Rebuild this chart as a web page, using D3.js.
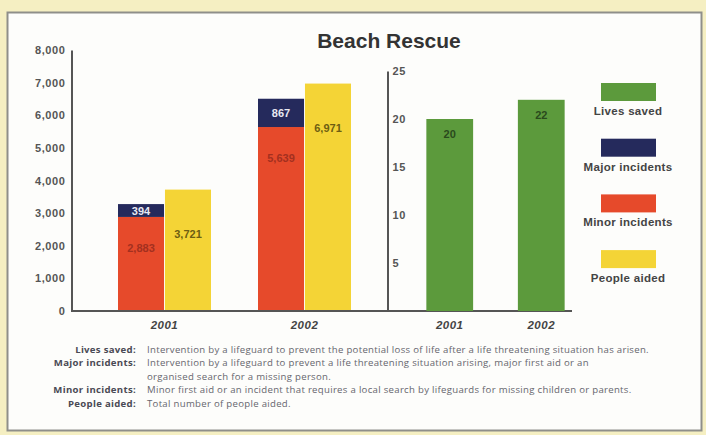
<!DOCTYPE html>
<html>
<head>
<meta charset="utf-8">
<script src="https://cdn.jsdelivr.net/npm/d3@7"></script>
<style>
  html, body { margin: 0; padding: 0; background: #f5f0c6; }
  svg { display: block; }
</style>
</head>
<body>
<script>
// Beach rescue statistics, 2001–2002
const years = ["2001", "2002"];
const minorIncidents = [2883, 5639];
const majorIncidents = [394, 867];
const peopleAided = [3721, 6971];
const livesSaved = [20, 22];
const leftTicks = [0, 1000, 2000, 3000, 4000, 5000, 6000, 7000, 8000];
const rightTicks = [5, 10, 15, 20, 25];
const legendItems = ["Lives saved", "Major incidents", "Minor incidents", "People aided"];
const glossaryTerms = ["Lives saved:", "Major incidents:", "", "Minor incidents:", "People aided:"];
const glossaryText = [
  "Intervention by a lifeguard to prevent the potential loss of life after a life threatening situation has arisen.",
  "Intervention by a lifeguard to prevent a life threatening situation arising, major first aid or an",
  "organised search for a missing person.",
  "Minor first aid or an incident that requires a local search by lifeguards for missing children or parents.",
  "Total number of people aided."
];

const colors = {
  lives: "#5c9a3c",
  major: "#252a5c",
  minor: "#e64a2b",
  aided: "#f4d436"
};
const legendColors = [colors.lives, colors.major, colors.minor, colors.aided];

const W = 706, H = 435;
const svg = d3.select("body").append("svg").attr("width", W).attr("height", H);

// outer paper and white panel
svg.append("rect").attr("width", W).attr("height", H).attr("fill", "#f5efc2");
svg.append("rect")
  .attr("x", 7.5).attr("y", 12.5).attr("width", 694).attr("height", 418)
  .attr("fill", "#fdfdfb").attr("stroke", "#8f8f8a").attr("stroke-width", 2);

// title
svg.append("text")
  .attr("x", 389).attr("y", 48)
  .attr("text-anchor", "middle")
  .attr("font-family", "Liberation Sans, Arial, sans-serif")
  .attr("font-weight", "bold").attr("font-size", 21)
  .attr("fill", "#333")
  .text("Beach Rescue");

const baseY = 311;
const tickFont = g => g.selectAll("text")
  .attr("font-family", "Liberation Sans, Arial, sans-serif")
  .attr("font-weight", "bold").attr("font-size", 11)
  .attr("letter-spacing", 0.6)
  .attr("fill", "#555");

// ---- left chart: incidents and people aided ----
const y = d3.scaleLinear().domain([0, 8000]).range([baseY, 50]);
const x = d3.scaleBand().domain(years).range([71, 398]).padding(0.3357);
const xs = d3.scaleBand().domain(["stack", "aided"]).range([0, x.bandwidth()]).paddingInner(0.02);

const left = svg.append("g");
years.forEach((yr, i) => {
  const x0 = x(yr);
  const g = left.append("g");
  // minor incidents (bottom of stack)
  g.append("rect")
    .attr("x", x0 + xs("stack")).attr("width", xs.bandwidth())
    .attr("y", y(minorIncidents[i])).attr("height", y(0) - y(minorIncidents[i]))
    .attr("fill", colors.minor);
  // major incidents stacked on top
  const top = minorIncidents[i] + majorIncidents[i];
  g.append("rect")
    .attr("x", x0 + xs("stack")).attr("width", xs.bandwidth())
    .attr("y", y(top)).attr("height", y(minorIncidents[i]) - y(top))
    .attr("fill", colors.major);
  // people aided
  g.append("rect")
    .attr("x", x0 + xs("aided")).attr("width", xs.bandwidth())
    .attr("y", y(peopleAided[i])).attr("height", y(0) - y(peopleAided[i]))
    .attr("fill", colors.aided);

  const lab = (cx, cy, txt, fill) => g.append("text")
    .attr("x", cx).attr("y", cy).attr("text-anchor", "middle")
    .attr("font-family", "Liberation Sans, Arial, sans-serif")
    .attr("font-weight", "bold").attr("font-size", 11)
    .attr("fill", fill).text(txt);
  const cStack = x0 + xs("stack") + xs.bandwidth() / 2;
  const cAided = x0 + xs("aided") + xs.bandwidth() / 2;
  lab(cStack, (y(top) + y(minorIncidents[i])) / 2 + 4, d3.format(",")(majorIncidents[i]), "#e8e8f2");
  lab(cStack, y(minorIncidents[i]) + 35, d3.format(",")(minorIncidents[i]), "#a3301f");
  lab(cAided, y(peopleAided[i]) + 48, d3.format(",")(peopleAided[i]), "#6e5e12");
});

const yAxisL = svg.append("g")
  .attr("transform", "translate(71.5,0)")
  .call(d3.axisLeft(y).tickValues(leftTicks).tickFormat(d3.format(",")).tickSize(0).tickPadding(6))
  .call(tickFont);
yAxisL.select(".domain").attr("stroke", "#555").attr("stroke-width", 2);

// shared baseline
svg.append("line")
  .attr("x1", 71).attr("x2", 572).attr("y1", baseY).attr("y2", baseY)
  .attr("stroke", "#555").attr("stroke-width", 2);

const catLabel = (g, scale) => g.selectAll("text.cat")
  .data(years).join("text")
  .attr("class", "cat")
  .attr("x", d => scale(d) + scale.bandwidth() / 2)
  .attr("y", 329)
  .attr("text-anchor", "middle")
  .attr("font-family", "Liberation Sans, Arial, sans-serif")
  .attr("font-weight", "bold").attr("font-style", "italic").attr("font-size", 11.5)
  .attr("letter-spacing", 0.5)
  .attr("fill", "#444")
  .text(d => d);
catLabel(left, x);

// ---- right chart: lives saved ----
const y2 = d3.scaleLinear().domain([0, 25]).range([baseY, 71]);
const x2 = d3.scaleBand().domain(years).range([387, 604]).paddingInner(0.489).paddingOuter(0.43);

const right = svg.append("g");
right.selectAll("rect.lives").data(years).join("rect")
  .attr("class", "lives")
  .attr("x", d => x2(d)).attr("width", x2.bandwidth())
  .attr("y", (d, i) => y2(livesSaved[i]))
  .attr("height", (d, i) => y2(0) - y2(livesSaved[i]))
  .attr("fill", colors.lives);
right.selectAll("text.val").data(years).join("text")
  .attr("class", "val")
  .attr("x", d => x2(d) + x2.bandwidth() / 2)
  .attr("y", (d, i) => y2(livesSaved[i]) + 19)
  .attr("text-anchor", "middle")
  .attr("font-family", "Liberation Sans, Arial, sans-serif")
  .attr("font-weight", "bold").attr("font-size", 11)
  .attr("fill", "#2a4a1c")
  .text((d, i) => livesSaved[i]);
catLabel(right, x2);

const yAxisR = svg.append("g")
  .attr("transform", "translate(387.5,0)")
  .call(d3.axisRight(y2).tickValues(rightTicks).tickSize(0).tickPadding(5))
  .call(tickFont);
yAxisR.select(".domain").attr("stroke", "#555").attr("stroke-width", 2);

// ---- legend ----
const legend = svg.append("g");
legendItems.forEach((name, i) => {
  const top = 83 + i * 55.7;
  legend.append("rect")
    .attr("x", 601).attr("y", top).attr("width", 55).attr("height", 18)
    .attr("fill", legendColors[i]);
  legend.append("text")
    .attr("x", 628).attr("y", top + 32)
    .attr("text-anchor", "middle")
    .attr("font-family", "Liberation Sans, Arial, sans-serif")
    .attr("font-weight", "bold").attr("font-size", 11.5)
    .attr("letter-spacing", 0.3)
    .attr("fill", "#444")
    .text(name);
});

// ---- glossary ----
const gloss = svg.append("g")
  .attr("font-family", "Open Sans, Noto Sans, sans-serif")
  .attr("font-size", 9.6);
glossaryText.forEach((t, i) => {
  const ly = 353 + i * 13.4;
  if (glossaryTerms[i]) {
    gloss.append("text")
      .attr("x", 136).attr("y", ly).attr("text-anchor", "end")
      .attr("font-weight", "bold").attr("fill", "#4a4a55")
      .attr("letter-spacing", 0.3)
      .text(glossaryTerms[i]);
  }
  gloss.append("text")
    .attr("x", 147).attr("y", ly)
    .attr("fill", "#66666e")
    .attr("letter-spacing", 0.3)
    .text(t);
});
</script>
</body>
</html>
